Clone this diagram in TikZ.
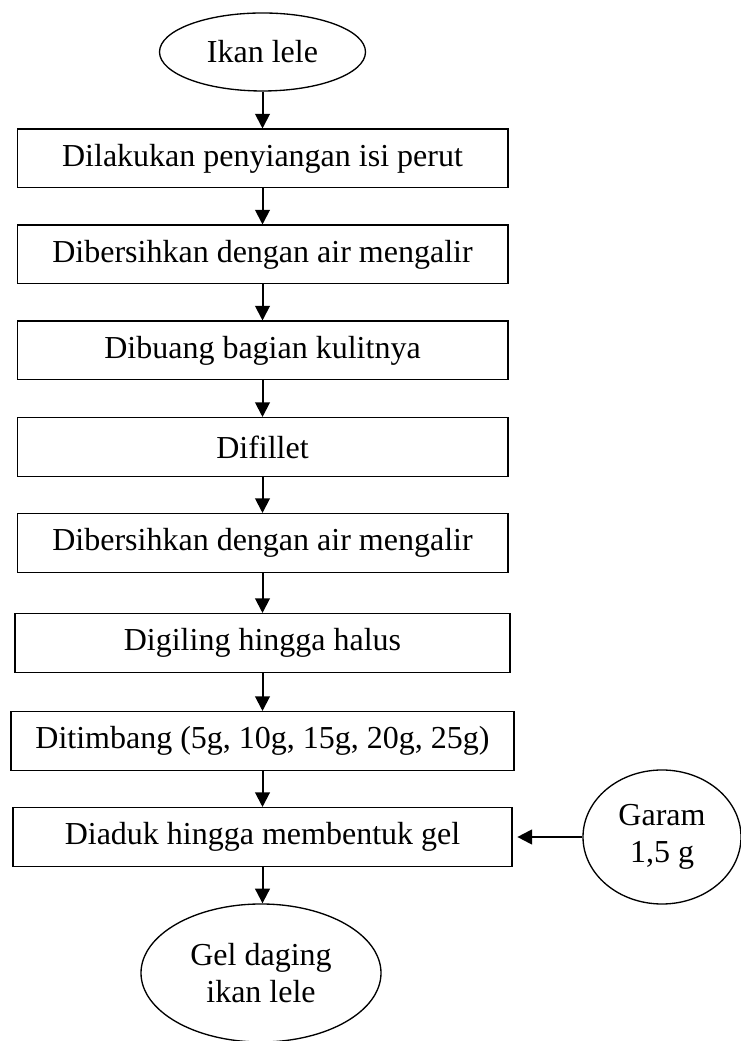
\documentclass[tikz,border=0pt]{standalone}
\usepackage{fontspec}
\setmainfont{Liberation Serif}
\usetikzlibrary{shapes.geometric,arrows.meta}

\begin{document}
\begin{tikzpicture}[x=0.75pt,y=0.75pt,
    font=\fontsize{24}{27.5}\selectfont,
    stepbox/.style={draw,line width=1pt,minimum width=368pt,minimum height=44pt,inner sep=0pt},
    endpoint/.style={draw,ellipse,line width=1pt,inner sep=0pt,align=center},
    flow/.style={-{Triangle[length=11pt,width=11pt]},line width=1.5pt}]
  \useasboundingbox (0,0) rectangle (741,1041);
  % start and process steps
  \node[endpoint,minimum width=154.5pt,minimum height=58.5pt] (ikan) at (262.5,989) {Ikan lele};
  \node[stepbox] (siang) at (262.5,882.5) {Dilakukan penyiangan isi perut};
  \node[stepbox] (bersih1) at (262.5,786.5) {Dibersihkan dengan air mengalir};
  \node[stepbox] (kulit) at (262.5,690.5) {Dibuang bagian kulitnya};
  \node[stepbox] (fillet) at (262.5,594) {Difillet};
  \node[stepbox] (bersih2) at (262.5,498) {Dibersihkan dengan air mengalir};
  \node[stepbox,minimum width=371.25pt] (giling) at (262.5,398) {Digiling hingga halus};
  \node[stepbox,minimum width=377.25pt] (timbang) at (262.5,300) {Ditimbang (5g, 10g, 15g, 20g, 25g)};
  \node[stepbox,minimum width=374.25pt] (aduk) at (262.5,204) {Diaduk hingga membentuk gel};
  % inputs and result
  \node[endpoint,minimum width=118.5pt,minimum height=100.5pt] (garam) at (662,204) {Garam\\1,5 g};
  \node[endpoint,minimum width=180pt,minimum height=103.5pt] (gel) at (261,68) {Gel daging\\ikan lele};

  \draw[flow] (ikan) -- (siang);
  \draw[flow] (siang) -- (bersih1);
  \draw[flow] (bersih1) -- (kulit);
  \draw[flow] (kulit) -- (fillet);
  \draw[flow] (fillet) -- (bersih2);
  \draw[flow] (bersih2) -- (giling);
  \draw[flow] (giling) -- (timbang);
  \draw[flow] (timbang) -- (aduk);
  \draw[flow] (aduk) -- (aduk |- gel.north);
  \draw[flow,shorten >=3.5pt] (garam) -- (aduk);
\end{tikzpicture}
\end{document}
